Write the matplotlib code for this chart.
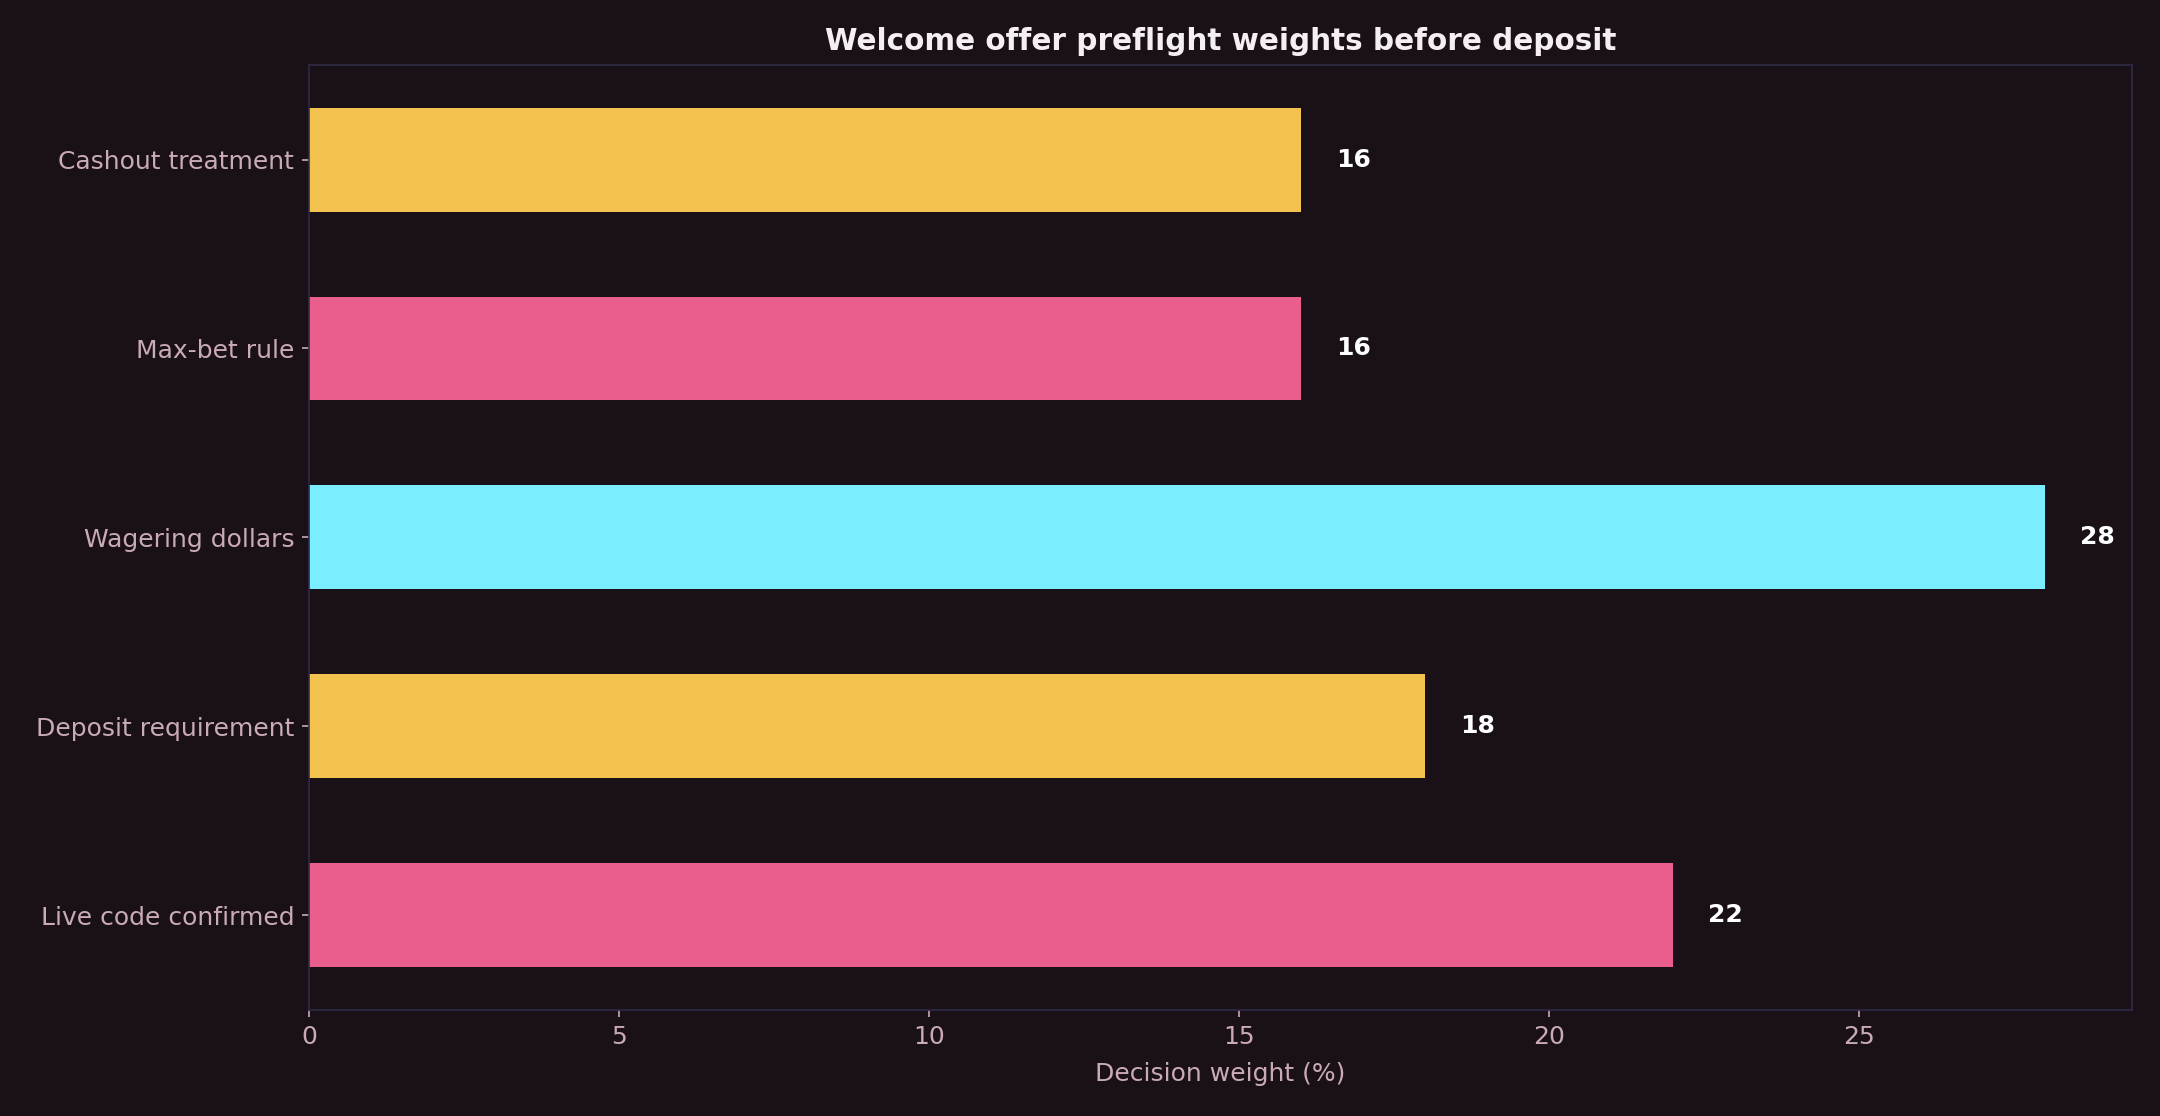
import matplotlib
matplotlib.use("Agg")
import matplotlib.pyplot as plt

categories = ["Cashout treatment", "Max-bet rule", "Wagering dollars",
              "Deposit requirement", "Live code confirmed"]
weights = [16, 16, 28, 18, 22]
colors = ["#f2c14e", "#e95e8c", "#7aedff", "#f2c14e", "#e95e8c"]

bg = "#1a1118"
text_col = "#c9aab6"
spine_col = "#2f2b45"

fig, ax = plt.subplots(figsize=(14.4, 7.44), dpi=150)
fig.patch.set_facecolor(bg)
ax.set_facecolor(bg)

ypos = range(len(categories))
ax.barh(ypos, weights, height=0.55, color=colors)
ax.set_yticks(list(ypos))
ax.set_yticklabels(categories)
ax.invert_yaxis()
ax.set_xlim(0, max(weights) * 1.05)

for y, w in zip(ypos, weights):
    ax.text(w + max(weights) * 0.02, y, str(w), va="center", ha="left",
            color="white", fontsize=12, fontweight="bold")

ax.set_title("Welcome offer preflight weights before deposit",
             color="#f5eef2", fontsize=14.2, fontweight="bold", pad=7)
ax.set_xlabel("Decision weight (%)", color=text_col, fontsize=12, labelpad=6.5)
ax.tick_params(colors=text_col, labelsize=12)
for s in ax.spines.values():
    s.set_color(spine_col)

fig.subplots_adjust(left=0.143, right=0.987, top=0.942, bottom=0.095)
fig.savefig("out.png", facecolor=bg)
